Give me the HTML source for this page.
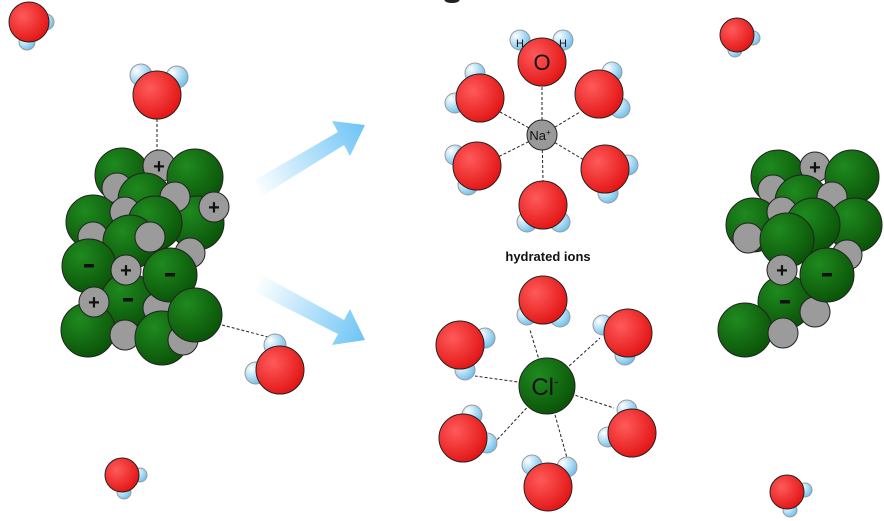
<!DOCTYPE html>
<html><head><meta charset="utf-8"><style>
html,body{margin:0;padding:0;background:#fff;width:884px;height:521px;overflow:hidden}
svg{display:block}
text{font-family:"Liberation Sans",Arial,sans-serif}
</style></head><body>
<svg width="884" height="521" viewBox="0 0 884 521" xmlns="http://www.w3.org/2000/svg">
<defs>
<radialGradient id="r" cx="35%" cy="35%" r="75%"><stop offset="0" stop-color="#ff5a5a"/><stop offset="1" stop-color="#e00f0f"/></radialGradient>
<radialGradient id="g" cx="35%" cy="30%" r="75%"><stop offset="0" stop-color="#1f8a1f"/><stop offset="1" stop-color="#0a5208"/></radialGradient>
<radialGradient id="h" cx="30%" cy="30%" r="75%"><stop offset="0" stop-color="#ffffff"/><stop offset="1" stop-color="#6fc0ec"/></radialGradient>
<linearGradient id="a1" x1="255" y1="190" x2="365" y2="125" gradientUnits="userSpaceOnUse"><stop offset="0" stop-color="#fff"/><stop offset="1" stop-color="#6cc4f6"/></linearGradient>
<linearGradient id="a2" x1="255" y1="285" x2="365" y2="340" gradientUnits="userSpaceOnUse"><stop offset="0" stop-color="#fff"/><stop offset="1" stop-color="#6cc4f6"/></linearGradient>
</defs>
<g stroke="#222" stroke-width="1">
<ellipse cx="452" cy="0" rx="7" ry="2.5" fill="#222"/>

<!-- free waters -->
<circle cx="46" cy="22" r="8" fill="url(#h)" stroke="#999"/><circle cx="27" cy="42" r="8" fill="url(#h)" stroke="#999"/><circle cx="29" cy="22" r="20" fill="url(#r)"/>
<circle cx="753" cy="38" r="7" fill="url(#h)" stroke="#999"/><circle cx="735" cy="50" r="7" fill="url(#h)" stroke="#999"/><circle cx="737" cy="35" r="17" fill="url(#r)"/>
<circle cx="140" cy="475" r="7" fill="url(#h)" stroke="#999"/><circle cx="124" cy="492" r="7" fill="url(#h)" stroke="#999"/><circle cx="122" cy="475" r="17" fill="url(#r)"/>
<circle cx="805" cy="490" r="7" fill="url(#h)" stroke="#999"/><circle cx="790" cy="510" r="7" fill="url(#h)" stroke="#999"/><circle cx="787" cy="492" r="17" fill="url(#r)"/>

<!-- left crystal waters -->
<line x1="157" y1="119" x2="157" y2="152" stroke-dasharray="3,2"/>
<circle cx="141" cy="75" r="11" fill="url(#h)" stroke="#999"/><circle cx="177" cy="77" r="11" fill="url(#h)" stroke="#999"/><circle cx="157" cy="95" r="24" fill="url(#r)"/>
<line x1="222" y1="325" x2="272" y2="338" stroke-dasharray="3,2"/>
<circle cx="275" cy="345" r="11" fill="url(#h)" stroke="#999"/><circle cx="256" cy="373" r="11" fill="url(#h)" stroke="#999"/><circle cx="280" cy="370" r="24" fill="url(#r)"/>

<!-- left crystal -->
<circle cx="122" cy="175" r="27" fill="url(#g)"/>
<circle cx="159" cy="166" r="16" fill="#9b9b9b"/>
<circle cx="195" cy="177" r="28" fill="url(#g)"/>
<circle cx="117" cy="188" r="15" fill="#9b9b9b"/>
<circle cx="197" cy="223" r="27" fill="url(#g)"/>
<circle cx="145" cy="200" r="27" fill="url(#g)"/>
<circle cx="175" cy="197" r="15" fill="#9b9b9b"/>
<circle cx="214" cy="207" r="15" fill="#9b9b9b"/>
<circle cx="93" cy="222" r="27" fill="url(#g)"/>
<circle cx="125" cy="212" r="15" fill="#9b9b9b"/>
<circle cx="155" cy="223" r="27" fill="url(#g)"/>
<circle cx="93" cy="237" r="15" fill="#9b9b9b"/>
<circle cx="130" cy="242" r="27" fill="url(#g)"/>
<circle cx="150" cy="237" r="15" fill="#9b9b9b"/>
<circle cx="190" cy="253" r="15" fill="#9b9b9b"/>
<circle cx="89" cy="266" r="27" fill="url(#g)"/>
<circle cx="128" cy="300" r="27" fill="url(#g)"/>
<circle cx="158" cy="308" r="15" fill="#9b9b9b"/>
<circle cx="170" cy="275" r="27" fill="url(#g)"/>
<circle cx="126" cy="270" r="15" fill="#9b9b9b"/>
<circle cx="88" cy="330" r="27" fill="url(#g)"/>
<circle cx="94" cy="302" r="15" fill="#9b9b9b"/>
<circle cx="125" cy="335" r="15" fill="#9b9b9b"/>
<circle cx="162" cy="338" r="27" fill="url(#g)"/>
<circle cx="183" cy="340" r="15" fill="#9b9b9b"/>
<circle cx="195" cy="315" r="27" fill="url(#g)"/>

<!-- right crystal -->
<circle cx="778" cy="177" r="27" fill="url(#g)"/>
<circle cx="815" cy="167" r="15" fill="#9b9b9b"/>
<circle cx="852" cy="177" r="27" fill="url(#g)"/>
<circle cx="773" cy="190" r="15" fill="#9b9b9b"/>
<circle cx="802" cy="202" r="27" fill="url(#g)"/>
<circle cx="832" cy="197" r="15" fill="#9b9b9b"/>
<circle cx="753" cy="225" r="27" fill="url(#g)"/>
<circle cx="855" cy="225" r="27" fill="url(#g)"/>
<circle cx="782" cy="212" r="15" fill="#9b9b9b"/>
<circle cx="813" cy="225" r="27" fill="url(#g)"/>
<circle cx="748" cy="238" r="15" fill="#9b9b9b"/>
<circle cx="787" cy="240" r="27" fill="url(#g)"/>
<circle cx="847" cy="255" r="15" fill="#9b9b9b"/>
<circle cx="785" cy="302" r="27" fill="url(#g)"/>
<circle cx="815" cy="312" r="15" fill="#9b9b9b"/>
<circle cx="827" cy="275" r="27" fill="url(#g)"/>
<circle cx="782" cy="270" r="15" fill="#9b9b9b"/>
<circle cx="745" cy="330" r="27" fill="url(#g)"/>
<circle cx="783" cy="333" r="15" fill="#9b9b9b"/>
</g>

<!-- arrows -->
<path d="M255 180 L338 132 L332 121 L365 125 L350 156 L344 145 L262 196 Z" fill="url(#a1)"/>
<path d="M262 275 L344 320 L350 309 L365 340 L332 345 L338 334 L255 292 Z" fill="url(#a2)"/>

<!-- signs -->
<g font-weight="bold" font-size="20" text-anchor="middle" fill="#111">
<text x="159" y="173">+</text><text x="214" y="214">+</text><text x="126" y="277">+</text><text x="94" y="309">+</text>
<text x="815" y="174">+</text><text x="782" y="277">+</text>
</g>
<g fill="#111">
<rect x="84" y="264" width="10" height="3.5"/><rect x="165" y="273" width="10" height="3.5"/><rect x="123" y="298" width="10" height="3.5"/>
<rect x="822" y="273" width="10" height="3.5"/><rect x="780" y="300" width="10" height="3.5"/>
</g>

<!-- Na cluster -->
<g stroke="#222" stroke-width="1">
<g stroke-dasharray="3,2">
<line x1="542" y1="135" x2="542" y2="86"/><line x1="542" y1="135" x2="500" y2="112"/><line x1="542" y1="135" x2="580" y2="112"/>
<line x1="542" y1="135" x2="498" y2="157"/><line x1="542" y1="135" x2="584" y2="160"/><line x1="542" y1="135" x2="543" y2="181"/>
</g>
<circle cx="520" cy="40" r="10" fill="url(#h)" stroke="#999"/><circle cx="563" cy="40" r="10" fill="url(#h)" stroke="#999"/><circle cx="542" cy="62" r="24" fill="url(#r)"/>
<circle cx="475" cy="73" r="10" fill="url(#h)" stroke="#999"/><circle cx="455" cy="103" r="10" fill="url(#h)" stroke="#999"/><circle cx="480" cy="98" r="24" fill="url(#r)"/>
<circle cx="612" cy="72" r="10" fill="url(#h)" stroke="#999"/><circle cx="620" cy="108" r="10" fill="url(#h)" stroke="#999"/><circle cx="599" cy="94" r="24" fill="url(#r)"/>
<circle cx="455" cy="155" r="10" fill="url(#h)" stroke="#999"/><circle cx="468" cy="185" r="10" fill="url(#h)" stroke="#999"/><circle cx="477" cy="166" r="24" fill="url(#r)"/>
<circle cx="628" cy="165" r="10" fill="url(#h)" stroke="#999"/><circle cx="608" cy="193" r="10" fill="url(#h)" stroke="#999"/><circle cx="605" cy="169" r="24" fill="url(#r)"/>
<circle cx="527" cy="222" r="10" fill="url(#h)" stroke="#999"/><circle cx="560" cy="222" r="10" fill="url(#h)" stroke="#999"/><circle cx="543" cy="205" r="24" fill="url(#r)"/>
<circle cx="542" cy="135" r="15" fill="#999"/>
</g>
<text x="542" y="70" font-size="22" text-anchor="middle" fill="#111">O</text>
<text x="520" y="47" font-size="11" text-anchor="middle" fill="#111">H</text>
<text x="563" y="47" font-size="11" text-anchor="middle" fill="#111">H</text>
<text x="540" y="140" font-size="13" text-anchor="middle" fill="#111">Na<tspan font-size="8" dy="-5">+</tspan></text>
<text x="548" y="261" font-size="13" font-weight="bold" text-anchor="middle" fill="#111">hydrated ions</text>

<!-- Cl cluster -->
<g stroke="#222" stroke-width="1">
<g stroke-dasharray="3,2">
<line x1="547" y1="386" x2="530" y2="330"/><line x1="547" y1="386" x2="600" y2="338"/><line x1="547" y1="386" x2="475" y2="376"/>
<line x1="547" y1="386" x2="614" y2="408"/><line x1="547" y1="386" x2="495" y2="442"/><line x1="547" y1="386" x2="567" y2="458"/>
</g>
<circle cx="527" cy="315" r="10" fill="url(#h)" stroke="#999"/><circle cx="560" cy="317" r="10" fill="url(#h)" stroke="#999"/><circle cx="543" cy="300" r="24" fill="url(#r)"/>
<circle cx="603" cy="325" r="10" fill="url(#h)" stroke="#999"/><circle cx="625" cy="355" r="10" fill="url(#h)" stroke="#999"/><circle cx="628" cy="333" r="24" fill="url(#r)"/>
<circle cx="485" cy="338" r="10" fill="url(#h)" stroke="#999"/><circle cx="465" cy="370" r="10" fill="url(#h)" stroke="#999"/><circle cx="460" cy="345" r="24" fill="url(#r)"/>
<circle cx="627" cy="410" r="10" fill="url(#h)" stroke="#999"/><circle cx="608" cy="437" r="10" fill="url(#h)" stroke="#999"/><circle cx="632" cy="433" r="24" fill="url(#r)"/>
<circle cx="472" cy="415" r="10" fill="url(#h)" stroke="#999"/><circle cx="487" cy="443" r="10" fill="url(#h)" stroke="#999"/><circle cx="463" cy="438" r="24" fill="url(#r)"/>
<circle cx="532" cy="465" r="10" fill="url(#h)" stroke="#999"/><circle cx="567" cy="467" r="10" fill="url(#h)" stroke="#999"/><circle cx="548" cy="487" r="24" fill="url(#r)"/>
<circle cx="547" cy="386" r="28" fill="url(#g)"/>
</g>
<text x="545" y="395" font-size="24" text-anchor="middle" fill="#111">Cl<tspan font-size="14" dy="-9">-</tspan></text>
</svg>
</body></html>
